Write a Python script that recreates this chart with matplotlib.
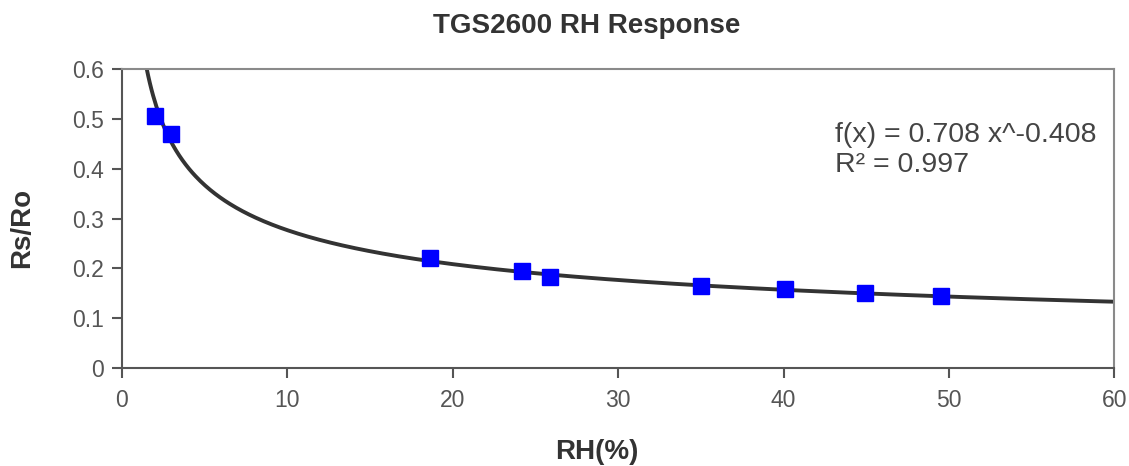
import numpy as np
import matplotlib
matplotlib.use('Agg')
import matplotlib.pyplot as plt

# measured points
rh = [2.0, 2.96, 18.6, 24.2, 25.9, 35.0, 40.1, 44.9, 49.5]
rs_ro = [0.506, 0.470, 0.221, 0.195, 0.183, 0.165, 0.159, 0.151, 0.145]

# power trendline from the chart
fit_a = 0.708
fit_b = -0.408
fit_r2 = 0.997

xticks = [0, 10, 20, 30, 40, 50, 60]
yticks = [0, 0.1, 0.2, 0.3, 0.4, 0.5, 0.6]

plt.rcParams['font.family'] = ['Liberation Sans', 'DejaVu Sans']

fig = plt.figure(figsize=(11.29, 4.66), dpi=100)
ax = fig.add_axes([0.108, 0.210, 0.879, 0.642])

xf = np.linspace(1.0, 60, 600)
ax.plot(xf, fit_a * xf ** fit_b, color='#333333', linewidth=2.8, zorder=2)
ax.plot(rh, rs_ro, linestyle='none', marker='s', markersize=12,
        color='#0000ff', zorder=3)

ax.set_xlim(0, 60)
ax.set_ylim(0, 0.6)
ax.set_xticks(xticks)
ax.set_yticks(yticks)
ax.set_xticklabels([str(v) for v in xticks])
ax.set_yticklabels(['0'] + [f'{v:.1f}' for v in yticks[1:]])

for s in ['left', 'bottom']:
    ax.spines[s].set_color('#555555')
    ax.spines[s].set_linewidth(1.5)
for s in ['top', 'right']:
    ax.spines[s].set_color('#8a8a8a')
    ax.spines[s].set_linewidth(1.5)

ax.tick_params(direction='out', length=7, width=1.5, color='#555555',
               labelsize=16.5, labelcolor='#555555')
ax.tick_params(axis='y', pad=6)
ax.tick_params(axis='x', pad=8)

ax.set_xlabel('RH(%)', fontsize=20, fontweight='bold', color='#333333')
ax.set_ylabel('Rs/Ro', fontsize=20, fontweight='bold', color='#333333')
ax.xaxis.set_label_coords(0.479, -0.281)
ax.yaxis.set_label_coords(-0.101, 0.468)
ax.xaxis.label.set_va('center')
ax.yaxis.label.set_va('center')

fig.text(0.520, 0.945, 'TGS2600 RH Response', fontsize=20, fontweight='bold',
         color='#333333', ha='center', va='center')

ax.text(0.719, 0.779, f'f(x) = {fit_a} x^{fit_b}', transform=ax.transAxes,
        fontsize=20.5, color='#444444', va='center', ha='left')
ax.text(0.719, 0.679, f'R² = {fit_r2}', transform=ax.transAxes,
        fontsize=20.5, color='#444444', va='center', ha='left')

plt.savefig('out.png', dpi=100)
